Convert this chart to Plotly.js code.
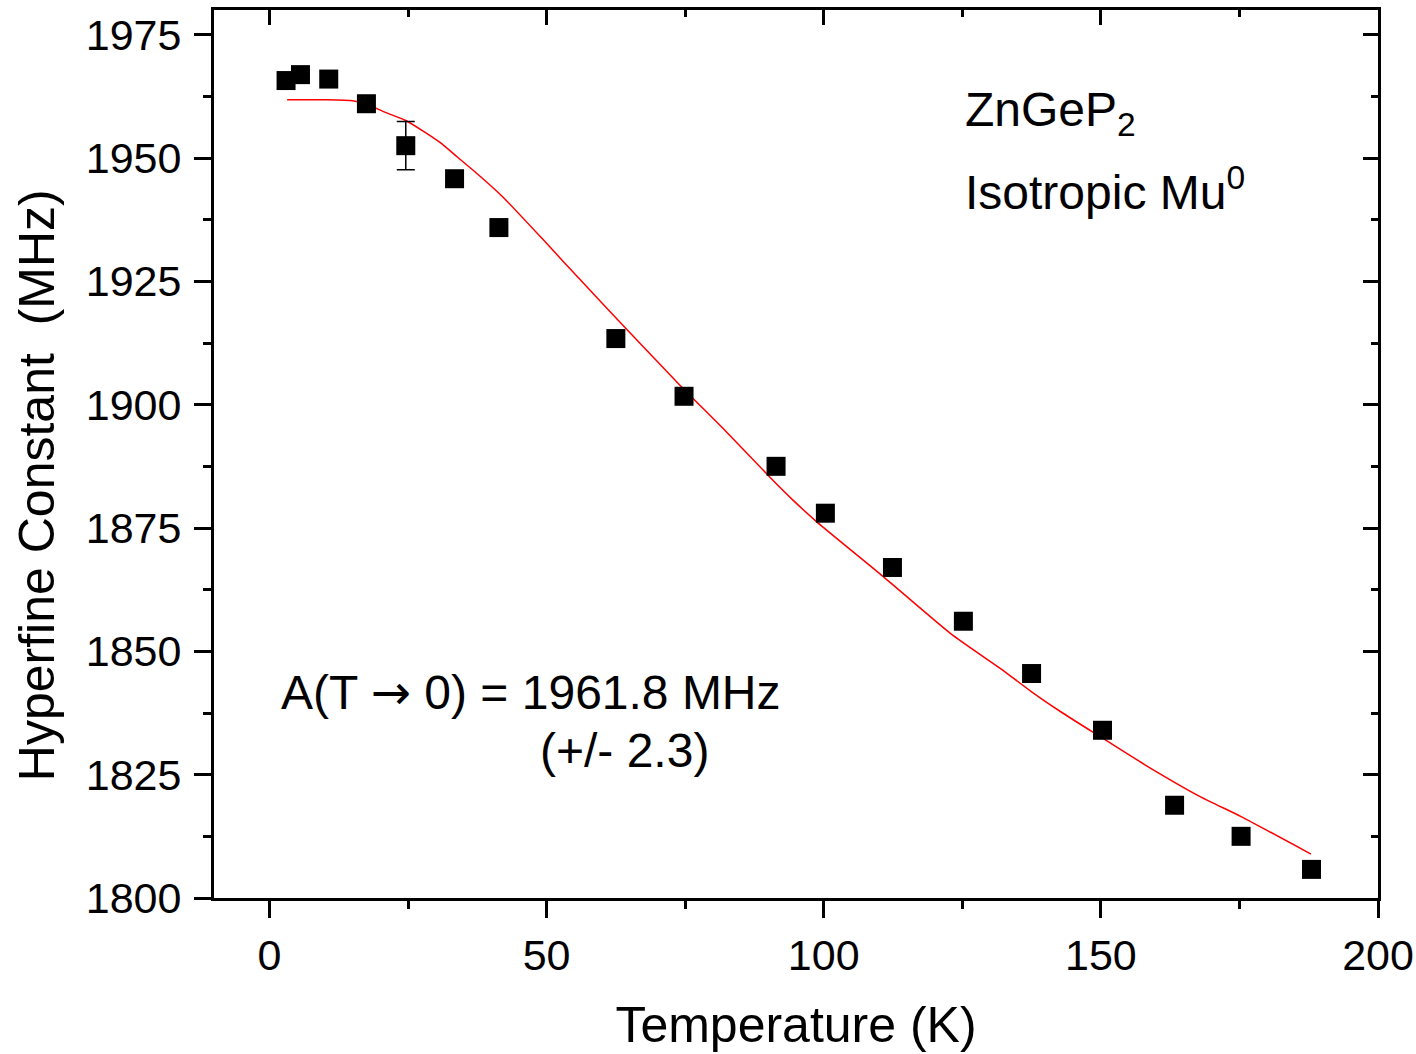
<!DOCTYPE html>
<html>
<head>
<meta charset="utf-8">
<script src="https://cdn.plot.ly/plotly-3.0.1.min.js"></script>
<style>html,body{margin:0;padding:0;background:#fff;}#chart{width:1416px;height:1054px;}</style>
</head>
<body>
<div id="chart"></div>
<script>
// Measured data points
const temperature = [3.0, 5.6, 10.7, 17.5, 24.6, 33.4, 41.4, 62.5, 74.8, 91.4, 100.3, 112.4, 125.2, 137.5, 150.3, 163.3, 175.3, 188.0];
const hyperfine = [1965.7, 1966.9, 1966.0, 1961.0, 1952.5, 1945.8, 1935.9, 1913.4, 1901.7, 1887.5, 1878.0, 1867.0, 1856.1, 1845.5, 1834.0, 1818.8, 1812.5, 1805.8];

// The single point drawn with an error bar
const errTemperature = [24.6];
const errHyperfine = [1952.5];
const errSize = [4.9];

// Fit curve
const fitT = [3.2, 10, 15, 17.5, 21, 24.6, 30.7, 34, 37.9, 42.2, 50.0, 56.0, 64.1, 74.1, 81.9, 90.3, 94.5, 98.8, 110.8, 122.9, 131.9, 137.5, 143.1, 150.3, 158.1, 168.0, 175.3, 187.9];
const fitA = [1961.8, 1961.8, 1961.6, 1960.9, 1959.2, 1957.6, 1953.2, 1950.1, 1946.4, 1942.0, 1932.7, 1925.4, 1915.7, 1903.9, 1895.1, 1885.3, 1880.6, 1876.2, 1865.1, 1853.6, 1846.5, 1841.8, 1837.5, 1832.4, 1826.9, 1820.5, 1816.5, 1808.9];

const xTitle = 'Temperature (K)';
const yTitle = 'Hyperfine Constant\u00a0 (MHz)';

const FONT = 'Arial, "Liberation Sans", sans-serif';

const traces = [
  {x: fitT, y: fitA, type: 'scatter', mode: 'lines', line: {color: '#ff0000', width: 1.5, shape: 'spline', smoothing: 0.6}, hoverinfo: 'skip', showlegend: false},
  {x: errTemperature, y: errHyperfine, type: 'scatter', mode: 'markers', marker: {opacity: 0, size: 1},
   error_y: {type: 'data', array: errSize, visible: true, color: '#000', thickness: 1.5, width: 9}, showlegend: false},
  {x: temperature, y: hyperfine, type: 'scatter', mode: 'markers', marker: {symbol: 'square', size: 19, color: '#000'}, showlegend: false},
  {x: temperature, y: hyperfine, xaxis: 'x2', yaxis: 'y2', type: 'scatter', mode: 'markers', marker: {opacity: 0}, hoverinfo: 'skip', showlegend: false}
];

const axisCommon = {
  showgrid: false, zeroline: false, showline: true, linecolor: '#000', linewidth: 3,
  tickcolor: '#000', tickwidth: 3, ticklen: 17,
  tickfont: {family: FONT, size: 43, color: '#000'}
};

const layout = {
  width: 1416, height: 1054,
  margin: {l: 214, r: 38, t: 10, b: 156},
  paper_bgcolor: '#fff', plot_bgcolor: '#fff',
  font: {family: FONT, color: '#000'},
  xaxis: Object.assign({}, axisCommon, {
    range: [-10, 200], tick0: 0, dtick: 50, ticks: 'outside',
    minor: {dtick: 25, ticks: 'outside', ticklen: 8, tickwidth: 3, tickcolor: '#000'},
    title: {text: xTitle, font: {family: FONT, size: 50, color: '#000'}, standoff: 30}
  }),
  yaxis: Object.assign({}, axisCommon, {
    range: [1800, 1980], tick0: 1800, dtick: 25, ticks: 'outside', ticklabelstandoff: 4,
    minor: {dtick: 12.5, ticks: 'outside', ticklen: 8, tickwidth: 3, tickcolor: '#000'}
  }),
  xaxis2: Object.assign({}, axisCommon, {
    overlaying: 'x', side: 'top', anchor: 'y2', range: [-10, 200], tick0: 0, dtick: 50,
    ticks: 'inside', ticklen: 15, showticklabels: false,
    minor: {dtick: 25, ticks: 'inside', ticklen: 7, tickwidth: 3, tickcolor: '#000'}
  }),
  yaxis2: Object.assign({}, axisCommon, {
    overlaying: 'y', side: 'right', anchor: 'x2', range: [1800, 1980], tick0: 1800, dtick: 25,
    ticks: 'inside', ticklen: 15, showticklabels: false,
    minor: {dtick: 12.5, ticks: 'inside', ticklen: 7, tickwidth: 3, tickcolor: '#000'}
  }),
  annotations: [
    {text: yTitle, textangle: -90, x: -0.152, y: 0.465, xref: 'paper', yref: 'paper', xanchor: 'center', yanchor: 'middle', showarrow: false, font: {family: FONT, size: 50, color: '#000'}},
    {text: 'ZnGeP<sub>2</sub>', x: 125.2, y: 1959.2, xref: 'x', yref: 'y', xanchor: 'left', yanchor: 'middle', showarrow: false, font: {family: FONT, size: 48, color: '#000'}},
    {text: 'Isotropic Mu<sup>0</sup>', x: 125.2, y: 1943.8, xref: 'x', yref: 'y', xanchor: 'left', yanchor: 'middle', showarrow: false, font: {family: FONT, size: 48, color: '#000'}},
    {text: 'A(T <span style="font-family:\'DejaVu Sans\'">\u2192</span> 0) = 1961.8 MHz', x: 1.8, y: 1841.7, xref: 'x', yref: 'y', xanchor: 'left', yanchor: 'middle', showarrow: false, font: {family: FONT, size: 48, color: '#000'}},
    {text: '(+/- 2.3)', x: 64.1, y: 1830.0, xref: 'x', yref: 'y', xanchor: 'center', yanchor: 'middle', showarrow: false, font: {family: FONT, size: 48, color: '#000'}}
  ]
};

Plotly.newPlot('chart', traces, layout, {staticPlot: true, displayModeBar: false});
</script>
</body>
</html>
